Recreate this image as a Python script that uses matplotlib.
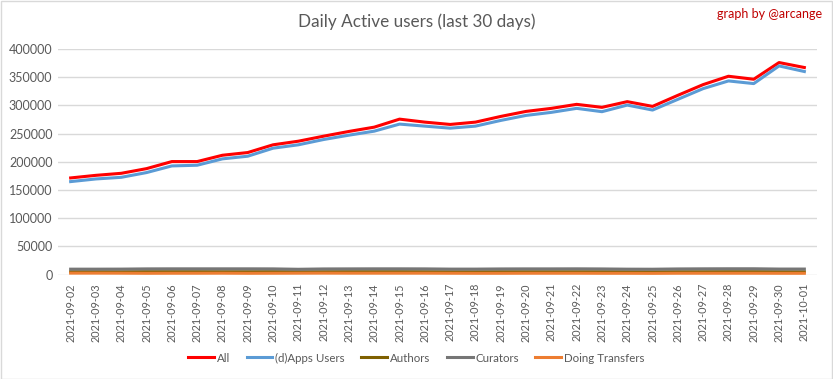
import matplotlib
matplotlib.use("Agg")
import matplotlib.pyplot as plt
from matplotlib.patches import Rectangle

plt.rcParams['font.family'] = ['Lato', 'DejaVu Sans']

dates = ["2021-09-02", "2021-09-03", "2021-09-04", "2021-09-05", "2021-09-06",
         "2021-09-07", "2021-09-08", "2021-09-09", "2021-09-10", "2021-09-11",
         "2021-09-12", "2021-09-13", "2021-09-14", "2021-09-15", "2021-09-16",
         "2021-09-17", "2021-09-18", "2021-09-19", "2021-09-20", "2021-09-21",
         "2021-09-22", "2021-09-23", "2021-09-24", "2021-09-25", "2021-09-26",
         "2021-09-27", "2021-09-28", "2021-09-29", "2021-09-30", "2021-10-01"]

all_users = [171500, 176100, 179700, 188000, 200500, 200500, 211700, 216500, 230200, 236600,
             245500, 253900, 261500, 275700, 270400, 266300, 270400, 280500, 289400, 294800,
             301900, 296600, 306700, 298300, 317900, 336900, 351700, 346400, 376000, 367200]

dapps_users = [165000, 169700, 172600, 181000, 192800, 194000, 205300, 210000, 224200, 230200,
               239600, 247300, 254400, 266900, 263300, 259700, 263300, 273400, 282300, 287700,
               294800, 288900, 300600, 291800, 310800, 329800, 343400, 338700, 370000, 360100]

authors = [5200, 5200, 5100, 5300, 5300, 5300, 5200, 5200, 5300, 5100,
           5200, 5300, 5300, 5300, 5200, 5100, 5100, 5200, 5200, 5200,
           5200, 5200, 5100, 5000, 5200, 5200, 5300, 5300, 5200, 5100]

curators = [9800, 9800, 9900, 10300, 10400, 10400, 10400, 10400, 10300, 9600,
            10200, 10300, 10400, 10400, 10300, 9900, 9900, 10200, 10300, 10300,
            10400, 10200, 9800, 9700, 10200, 10400, 10500, 10500, 10000, 10000]

transfers = [2800, 2800, 2700, 2500, 2600, 2600, 2700, 2500, 2600, 2700,
             2800, 2700, 2700, 2700, 2700, 2600, 2500, 2500, 2600, 2600,
             2600, 2500, 2500, 2400, 2600, 2600, 2600, 2600, 2500, 2500]

series_names = ["All", "(d)Apps Users", "Authors", "Curators", "Doing Transfers"]
series_colors = ["#ff0000", "#5b9bd5", "#7f6000", "#767676", "#ed7d31"]

fig = plt.figure(figsize=(8.33, 3.79), dpi=100)
fig.patch.set_facecolor("white")
fig.patches.append(Rectangle((0.5 / 833, 0.5 / 379), 1 - 1.5 / 833, 1 - 1.5 / 379,
                             transform=fig.transFigure, fill=False,
                             edgecolor="#d9d9d9", linewidth=1))

ax = fig.add_axes([58 / 833, 104.3 / 379, 759 / 833, 225.7 / 379])
x = list(range(len(dates)))
data = [all_users, dapps_users, authors, curators, transfers]
lines = []
for i in range(5):
    ln, = ax.plot(x, data[i], color=series_colors[i], linewidth=2.2,
                  solid_joinstyle="round", zorder=3 + i * 0.1)
    lines.append(ln)

ax.set_xlim(-0.5, len(dates) - 0.5)
ax.set_ylim(0, 400000)
ax.set_yticks(range(0, 400001, 50000))
ax.set_yticklabels([str(v) for v in range(0, 400001, 50000)])
ax.set_xticks(x)
ax.set_xticklabels(dates, rotation=90)
ax.grid(axis="y", color="#d9d9d9", linewidth=1)
ax.set_axisbelow(True)
for s in ["top", "right", "left", "bottom"]:
    ax.spines[s].set_visible(False)
ax.tick_params(axis="both", length=0, colors="#595959")
ax.tick_params(axis="y", pad=4, labelsize=9)
ax.tick_params(axis="x", pad=6, labelsize=7.8)

fig.text(0.5, 1 - 22 / 379, "Daily Active users (last 30 days)", ha="center", va="center",
         fontsize=12.3, color="#595959")
fig.text(822 / 833, 1 - 14 / 379, "graph by @arcange", ha="right", va="center",
         fontsize=9, color="#c00000")

fig.legend(lines, series_names, loc="center", bbox_to_anchor=(0.5, 1 - 358 / 379),
           ncol=5, frameon=False, fontsize=8.3, handlelength=2.25, handletextpad=0.26,
           columnspacing=1.4, labelcolor="#595959")

fig.savefig("out.png", dpi=100, facecolor="white")
